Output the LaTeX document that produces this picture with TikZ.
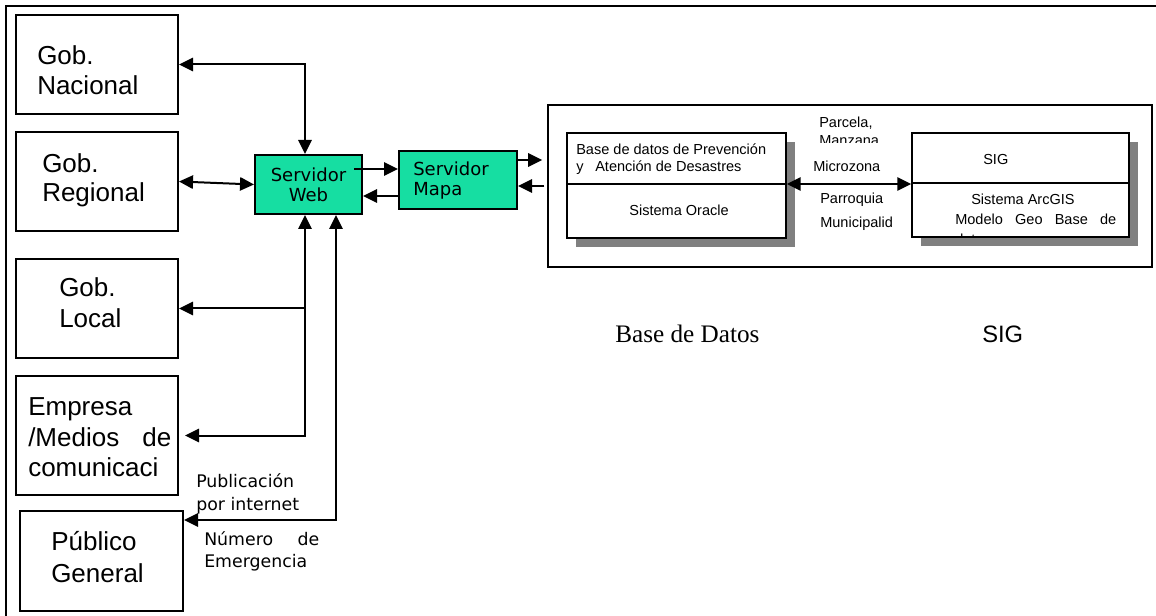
\documentclass[tikz,border=0pt]{standalone}
\usepackage{fontspec}
\setmainfont{Liberation Sans}
\newfontfamily\dvsans{DejaVu Sans}
\newfontfamily\tmserif{Liberation Serif}
\usetikzlibrary{arrows.meta}
\definecolor{webgreen}{RGB}{22,222,162}
\definecolor{shadowgray}{RGB}{128,128,128}
\newcommand\gobfont{\fontsize{19.5}{23}\selectfont}
\newcommand\srvfont{\dvsans\fontsize{13.5}{16}\selectfont}
\newcommand\pubfont{\dvsans\fontsize{13}{16}\selectfont}
\newcommand\smfont{\fontsize{10.9}{13}\selectfont}
\begin{document}
\begin{tikzpicture}[x=0.75pt,y=-0.75pt,
  box/.style={draw=black, line width=1.5pt, inner sep=0pt, fill=white},
  ibox/.style={draw=black, line width=1.1pt, inner sep=0pt, fill=white},
  shadowbox/.style={fill=shadowgray, draw=none, inner sep=0pt},
  srv/.style={draw=black, line width=1.5pt, inner sep=0pt, fill=webgreen},
  lbl/.style={anchor=base west, inner sep=0pt},
  clbl/.style={anchor=base, inner sep=0pt},
  con/.style={line width=1.5pt},
  >={Triangle[length=10.5pt,width=10pt]}]
\useasboundingbox (0,0) rectangle (1156,616);
\draw[line width=1.5pt] (1156,6) -- (6,6) -- (6,616);

% left boxes
\node[box, minimum width=121.5pt, minimum height=74.25pt] (nac) at (97,64.5) {};
\node[box, minimum width=121.5pt, minimum height=74.25pt] (reg) at (97,181.5) {};
\node[box, minimum width=121.5pt, minimum height=74.25pt] (loc) at (97,308.5) {};
\node[box, minimum width=121.5pt, minimum height=89.25pt] (emp) at (97,435.5) {};
\node[box, minimum width=122.25pt, minimum height=75pt] (pub) at (101.5,561) {};

\node[lbl] (t1) at (37,65) {\gobfont Gob.};
\node[lbl] (t2) at (37,95) {\gobfont Nacional};
\node[lbl] (t3) at (42,173) {\gobfont Gob.};
\node[lbl] (t4) at (42,202) {\gobfont Regional};
\node[lbl] (t5) at (59,297) {\gobfont Gob.};
\node[lbl] (t6) at (59,328) {\gobfont Local};
\node[lbl] (t7) at (28,416) {\gobfont Empresa};
\node[lbl] (t8) at (28,446) {\gobfont\makebox[107.25pt][s]{/Medios\hfill de}};
\node[lbl] (t9) at (28,476) {\gobfont comunicaci};
\node[lbl] (t10) at (51,550) {\gobfont Público};
\node[lbl] (t11) at (51,582) {\gobfont General};

% servers
\node[srv, minimum width=80.25pt, minimum height=44.25pt] (web) at (308.5,184.5) {};
\node[clbl] (w1) at (308.5,182) {\srvfont Servidor};
\node[clbl] (w2) at (308.5,202) {\srvfont Web};
\node[srv, minimum width=88.5pt, minimum height=43.5pt] (map) at (458,180) {};
\node[lbl] (m1) at (413,176) {\srvfont Servidor};
\node[lbl] (m2) at (413,196) {\srvfont Mapa};

% big frame
\node[draw=black, line width=1.3pt, inner sep=0pt, minimum width=453pt, minimum height=121.5pt] (frm) at (850,186) {};

\node[shadowbox, minimum width=164.25pt, minimum height=78.75pt] (oras) at (685.5,194.5) {};
\node[ibox, minimum width=164.25pt, minimum height=78.75pt] (ora) at (676.5,185.5) {};
\draw[line width=1.1pt] (ora.west |- 0,184) -- (ora.east |- 0,184);
\node[lbl] (o1) at (576,155) {\smfont Base de datos de Prevención};
\node[lbl] (o2) at (576,172) {\smfont y};
\node[lbl] (o3) at (595,172) {\smfont Atención de Desastres};
\node[clbl] (o4) at (679,216) {\smfont Sistema Oracle};

\node[shadowbox, minimum width=162.75pt, minimum height=78pt] (sigs) at (1029.5,194) {};
\node[ibox, minimum width=162.75pt, minimum height=78pt] (sig) at (1020.5,185) {};
\draw[line width=1.1pt] (sig.west |- 0,183) -- (sig.east |- 0,183);
\node[lbl] (s1) at (983,165) {\smfont SIG};
\node[lbl] (s2) at (971,205) {\smfont Sistema ArcGIS};
\node[lbl] (s3) at (955,225) {\smfont\makebox[120.75pt][s]{Modelo\hfill Geo\hfill Base\hfill de}};
\begin{scope}
\clip (913,134) rectangle (1128,235.5);
\node[lbl] (s4) at (955,245) {\smfont datos};
\end{scope}

% labels between boxes
\node[lbl] (p1) at (819,128) {\smfont Parcela,};
\begin{scope}
\clip (800,100) rectangle (900,143);
\node[lbl] (p2) at (819,146) {\smfont Manzana};
\end{scope}
\node[lbl] (p3) at (813,172) {\smfont Microzona};
\node[lbl] (p4) at (820,204) {\smfont Parroquia};
\node[lbl] (p5) at (820,228) {\smfont Municipalid};

% bottom captions
\node[lbl] (bd) at (615,343) {\tmserif\fontsize{18.9}{22}\selectfont Base de Datos};
\node[lbl] (bs) at (982,343) {\fontsize{17.8}{21}\selectfont SIG};

% publication labels
\node[lbl] (u1) at (196,487) {\pubfont Publicación};
\node[lbl] (u2) at (196,510) {\pubfont por internet};
\node[lbl] (u3) at (204,545) {\pubfont\makebox[86.25pt][s]{Número\hfill de}};
\node[lbl] (u4) at (204,567) {\pubfont Emergencia};

% connectors
\coordinate (vx1) at (305,0);
\coordinate (vx2) at (336,520);
\draw[con,<->] (nac.east) -| (vx1 |- web.north);
\draw[con,<->] (reg.east) -- (web.west);
\draw[con,<->] (vx1 |- web.south) |- (loc.east);
\draw[con,->] (vx1 |- loc.east) |- ([xshift=4.5pt]emp.east);
\draw[con,<->] (vx2 |- web.south) -- (vx2) -- (vx2 -| pub.east);

\coordinate (wm1) at (354,169);
\coordinate (wm2) at (0,196);
\draw[con,->] (wm1) -- (wm1 -| map.west);
\draw[con,->] (map.west |- wm2) -- (web.east |- wm2);

\coordinate (mf1) at (0,160);
\coordinate (mf2) at (0,186);
\draw[con,->,shorten >=3.75pt] (map.east |- mf1) -- (frm.west |- mf1);
\draw[con,->] ([xshift=-2pt]frm.west |- mf2) -- (map.east |- mf2);

\coordinate (os) at (0,184);
\draw[con,<->] (ora.east |- os) -- (sig.west |- os);
\end{tikzpicture}
\end{document}
